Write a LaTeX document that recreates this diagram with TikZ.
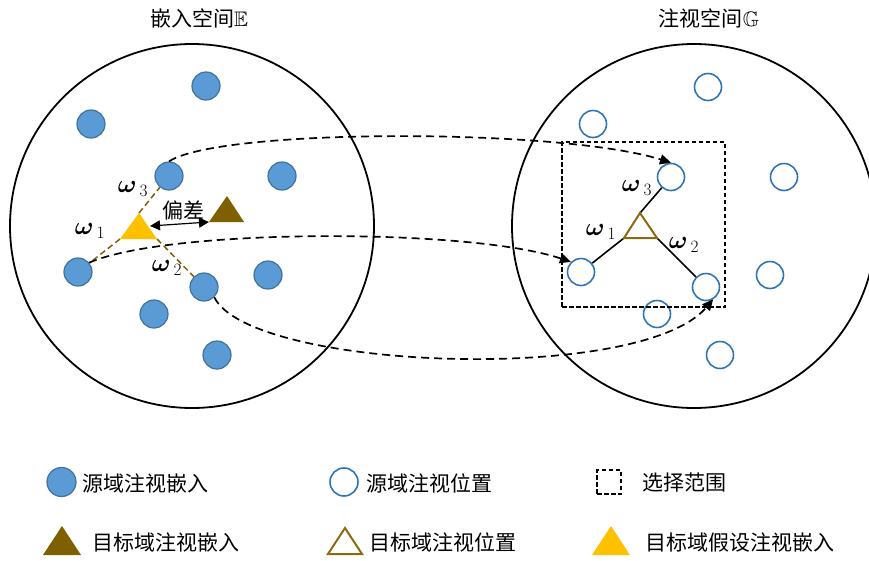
\documentclass[tikz,border=0pt]{standalone}
\usepackage{amsmath,amssymb}
\usepackage{fontspec}
\usetikzlibrary{arrows.meta}
\newfontfamily\cjk{Noto Sans CJK SC}
\definecolor{dotfill}{HTML}{5B9BD5}
\definecolor{dotline}{HTML}{41719C}
\definecolor{ringline}{HTML}{2E75B6}
\definecolor{goldt}{HTML}{FFC000}
\definecolor{brownt}{HTML}{7F6000}
\definecolor{browno}{HTML}{8C6A12}
\tikzset{
  bigc/.style={circle, draw, line width=1.8pt, minimum size=364pt, inner sep=0pt},
  fdot/.style={circle, fill=dotfill, draw=dotline, line width=1.2pt, minimum size=28pt, inner sep=0pt},
  hdot/.style={circle, draw=ringline, line width=1.6pt, minimum size=27pt, inner sep=0pt},
  txt/.style={font=\cjk\fontsize{21}{23}\selectfont, inner sep=0pt, anchor=west},
  ttl/.style={font=\cjk\fontsize{21}{23}\selectfont, inner sep=0pt},
  wl/.style={font=\fontsize{23}{25}\selectfont, inner sep=0pt},
  curv/.style={dash pattern=on 8pt off 5pt, line width=1.7pt, -{Triangle[length=11pt,width=10pt]}},
  wdash/.style={draw=brownt, dash pattern=on 6pt off 3.5pt, line width=1.5pt},
  wsolid/.style={draw=black, line width=1.6pt},
  selbox/.style={draw, dash pattern=on 4.5pt off 2.5pt, line width=1.7pt, inner sep=0pt},
  yellowtri/.style={fill=goldt},
  browntri/.style={fill=brownt},
  hollowtri/.style={draw=browno, line width=2pt, line join=miter},
  dev/.style={line width=1.2pt, {Triangle[length=10pt,width=10pt]}-{Triangle[length=10pt,width=10pt]}}
}
\begin{document}
\begin{tikzpicture}[x=1pt, y=-1pt]
\useasboundingbox (0,0) rectangle (869,560);
\clip (0,0) rectangle (869,560);

% titles
\node[ttl] (t1) at (199,18) {嵌入空间$\mathbb{E}$};
\node[ttl] (t2) at (709,18) {注视空间$\mathbb{G}$};

% big circles
\node[bigc] (E) at (192,226) {};
\node[bigc] (G) at (694,226) {};

% left filled dots
\node[fdot] (l1) at (206,86) {};
\node[fdot] (l2) at (91,124) {};
\node[fdot] (l3) at (169,176) {};
\node[fdot] (l4) at (282,176) {};
\node[fdot] (l5) at (78,272) {};
\node[fdot] (l6) at (204,287) {};
\node[fdot] (l7) at (268,275) {};
\node[fdot] (l8) at (154,314) {};
\node[fdot] (l9) at (217,355) {};

% right hollow dots
\node[hdot] (r1) at (708,87) {};
\node[hdot] (r2) at (593,124) {};
\node[hdot] (r3) at (671,177) {};
\node[hdot] (r4) at (784,177) {};
\node[hdot] (r5) at (581,272) {};
\node[hdot] (r6) at (706,287) {};
\node[hdot] (r7) at (770,275) {};
\node[hdot] (r8) at (657,314) {};
\node[hdot] (r9) at (720,355) {};

% selection box
\node[selbox, minimum width=163pt, minimum height=165pt] (sel) at (643.5,224.5) {};

% left triangles
\coordinate (yL) at (120,239);
\coordinate (yR) at (157,239);
\coordinate (yT) at (139,213);
\coordinate (bL) at (209,222);
\coordinate (bR) at (244,222);
\coordinate (bT) at (227,196);
\coordinate (yM) at (150,226);

\draw[wdash] (yT) -- (l3);
\draw[wdash] (yL) -- (l5);
\draw[wdash] (yR) -- (l6);
\fill[browntri] (bL) -- (bR) -- (bT) -- cycle;
\fill[yellowtri] (yL) -- (yR) -- (yT) -- cycle;
\draw[dev] (yM) -- (bL);
\node[ttl] (dv) at (183,210) {偏差};

\node[wl] (w3L) at (133,189) {$\boldsymbol{\omega}_{\,3}$};
\node[wl] (w1L) at (90,231) {$\boldsymbol{\omega}_{\,1}$};
\node[wl] (w2L) at (167,268) {$\boldsymbol{\omega}_{\,2}$};

% right triangle
\coordinate (hL) at (624,238);
\coordinate (hR) at (657,238);
\coordinate (hT) at (640,213);
\draw[wsolid] (hT) -- (r3);
\draw[wsolid] (hL) -- (r5);
\draw[wsolid] (hR) -- (r6);
\draw[hollowtri] (hL) -- (hR) -- (hT) -- cycle;

\node[wl] (w3R) at (637,188) {$\boldsymbol{\omega}_{\,3}$};
\node[wl] (w1R) at (601,232) {$\boldsymbol{\omega}_{\,1}$};
\node[wl] (w2R) at (684,245) {$\boldsymbol{\omega}_{\,2}$};

% mapping curves
\draw[curv] (l3.north) .. controls (220,128) and (560,128) .. (r3.north);
\draw[curv] (l5.40) .. controls (170,228) and (470,228) .. (r5.135);
\draw[curv] (l6.-45) .. controls (250,370) and (640,385) .. (r6.-60);

% legend
\node[fdot, minimum size=29pt] (g1) at (61.5,482) {};
\node[txt] (g1t) at (82,483) {源域注视嵌入};
\node[hdot, minimum size=28pt] (g2) at (344,482) {};
\node[txt] (g2t) at (366,483) {源域注视位置};
\node[selbox, minimum width=24pt, minimum height=24pt] (g3) at (609,482) {};
\node[txt] (g3t) at (642,483) {选择范围};

\fill[browntri] (43,555) -- (81,555) -- (62,526) -- cycle;
\node[txt] (g4t) at (92,542) {目标域注视嵌入};
\draw[hollowtri] (328,554) -- (362,554) -- (345,528) -- cycle;
\node[txt] (g5t) at (369,542) {目标域注视位置};
\fill[yellowtri] (592,555) -- (630,555) -- (611,526) -- cycle;
\node[txt] (g6t) at (645,542) {目标域假设注视嵌入};
\end{tikzpicture}
\end{document}
